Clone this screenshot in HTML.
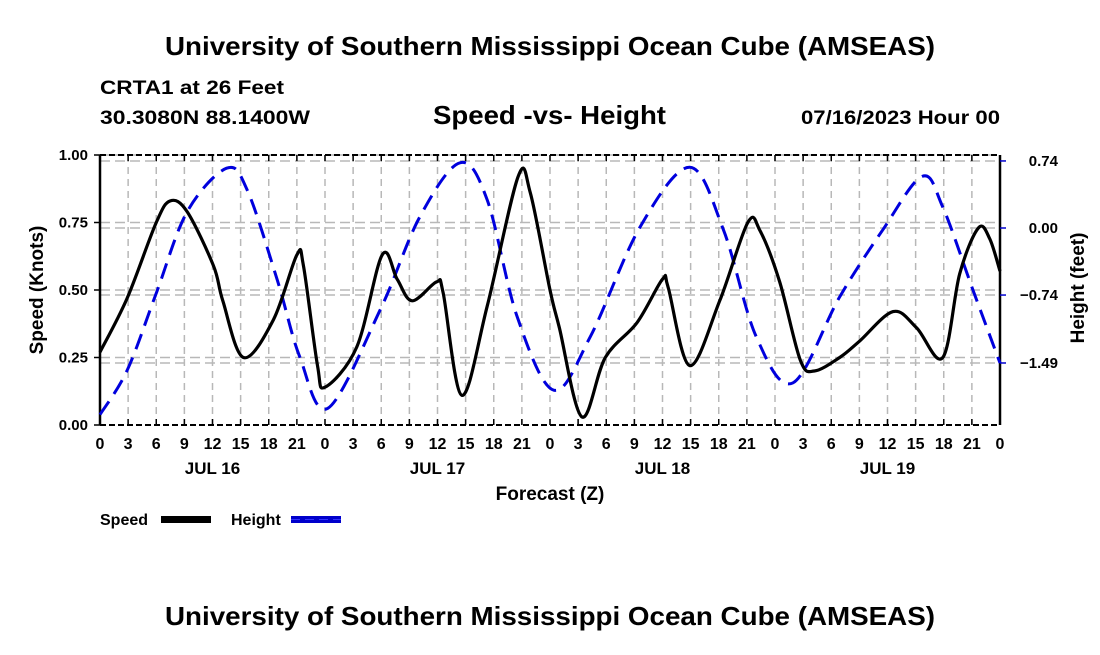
<!DOCTYPE html>
<html><head><meta charset="utf-8"><style>
body{margin:0;background:#fff;}
svg text{font-family:"Liberation Sans",sans-serif;font-weight:bold;fill:#000;}
</style></head><body>
<svg id="c" width="1100" height="650" viewBox="0 0 1100 650">
<text x="165" y="55" font-size="26" textLength="770" lengthAdjust="spacingAndGlyphs">University of Southern Mississippi Ocean Cube (AMSEAS)</text>
<text x="100" y="94" font-size="19" textLength="184" lengthAdjust="spacingAndGlyphs">CRTA1 at 26 Feet</text>
<text x="100" y="124" font-size="19" textLength="210" lengthAdjust="spacingAndGlyphs">30.3080N  88.1400W</text>
<text x="433" y="124" font-size="26" textLength="233" lengthAdjust="spacingAndGlyphs">Speed -vs- Height</text>
<text x="801" y="124" font-size="19" textLength="199" lengthAdjust="spacingAndGlyphs">07/16/2023 Hour 00</text>
<text x="165" y="625" font-size="26" textLength="770" lengthAdjust="spacingAndGlyphs">University of Southern Mississippi Ocean Cube (AMSEAS)</text>
<g id="grid"></g><g id="axes"></g><g id="series"></g>
<text x="550" y="500" font-size="19" text-anchor="middle">Forecast (Z)</text>
<text transform="translate(43,290) rotate(-90)" font-size="19" text-anchor="middle">Speed (Knots)</text>
<text transform="translate(1084,288) rotate(-90)" font-size="19" text-anchor="middle">Height (feet)</text>
<g>
<text x="100" y="525" font-size="16">Speed</text>
<rect x="161" y="516" width="50" height="7" fill="#000"/>
<text x="231" y="525" font-size="16">Height</text>
<rect x="291" y="516" width="50" height="7" fill="#0000cc"/>
<line x1="291" y1="519.5" x2="341" y2="519.5" stroke="#3333ff" stroke-width="1" stroke-dasharray="9,5"/>
</g>
</svg>
<script>
const speedHours=[0,2.9,6,7.5,9.3,12.1,13.1,15.3,18.5,21,21.7,23.2,24,27.4,30.1,31.7,33.3,35.9,36.6,38.6,41.3,44.6,45.9,48,49,51.4,53.9,57.3,60,60.6,62.9,66.1,69.1,70.4,72.5,74.7,76.2,78.9,81,84.6,87.1,89.9,91.7,93.7,94.9,96];
const speedVals=[0.27,0.47,0.75,0.83,0.79,0.59,0.46,0.25,0.39,0.63,0.59,0.22,0.14,0.29,0.63,0.54,0.46,0.53,0.49,0.11,0.44,0.92,0.86,0.5,0.36,0.03,0.25,0.38,0.54,0.51,0.22,0.46,0.75,0.72,0.53,0.24,0.2,0.25,0.31,0.42,0.36,0.25,0.56,0.73,0.69,0.57];
const heightHours=[0,2.9,6,9.3,13.5,15.7,18.9,21.3,24.3,29.9,34.1,38.4,41.3,44.5,48.4,52.3,57.6,62.9,66.5,70,73.9,78.9,83.5,87.7,89.9,93.1,96];
const heightVals=[-2.06,-1.57,-0.72,0.18,0.66,0.42,-0.57,-1.42,-1.99,-0.9,0.12,0.72,0.31,-0.98,-1.79,-1.2,0.01,0.67,-0.02,-1.2,-1.71,-0.76,-0.02,0.57,0.23,-0.68,-1.49];
const xTickLabels=["0","3","6","9","12","15","18","21"];
const dayLabels=["JUL 16","JUL 17","JUL 18","JUL 19"];
const speedTicks=[0,0.25,0.5,0.75,1.0];
const heightTicks=[0.74,0,-0.74,-1.49];

const L=100,R=1000,T=155,B=425,NS="http://www.w3.org/2000/svg";
const xs=h=>L+(R-L)*h/96;
const ys=v=>B-(B-T)*v;
const yh=f=>228-f*90.6;
function mk(p,tag,a){const e=document.createElementNS(NS,tag);for(const k in a)e.setAttribute(k,a[k]);p.appendChild(e);return e;}
const grid=document.getElementById('grid'),axes=document.getElementById('axes'),ser=document.getElementById('series');
for(let h=3;h<96;h+=3){const l=mk(grid,'line',{x1:xs(h),x2:xs(h),y1:T,y2:B,stroke:'#b8b8b8','stroke-width':1.5,'stroke-dasharray':'7,5'});

}
speedTicks.forEach(v=>{if(v===0)return;const l=mk(grid,'line',{x1:L,x2:R,y1:ys(v),y2:ys(v),stroke:'#b8b8b8','stroke-width':1.5,'stroke-dasharray':'10,5'});

});
heightTicks.forEach(v=>{const l=mk(grid,'line',{x1:L,x2:R,y1:yh(v),y2:yh(v),stroke:'#b8b8b8','stroke-width':1.5,'stroke-dasharray':'10,5'});

});
mk(axes,'line',{x1:L,x2:L,y1:T,y2:B,stroke:'#000','stroke-width':2.5});
mk(axes,'line',{x1:R,x2:R,y1:T,y2:B,stroke:'#000','stroke-width':2.5});
mk(axes,'line',{x1:L,x2:R,y1:T,y2:T,stroke:'#000','stroke-width':2,'stroke-dasharray':'6,3'});
mk(axes,'line',{x1:L,x2:R,y1:B,y2:B,stroke:'#000','stroke-width':2,'stroke-dasharray':'6,3'});
for(let h=0;h<=96;h+=3){
 mk(axes,'line',{x1:xs(h),x2:xs(h),y1:B,y2:B-6,stroke:'#000','stroke-width':1.5});
 mk(axes,'line',{x1:xs(h),x2:xs(h),y1:T,y2:T+6,stroke:'#000','stroke-width':1.5});
 const t=mk(axes,'text',{x:xs(h),y:B+24,'font-size':16,'text-anchor':'middle'});t.textContent=h===96?'0':xTickLabels[(h/3)%8];
 
 
}
dayLabels.forEach((d,i)=>{const t=mk(axes,'text',{x:xs(12+24*i),y:B+49,'font-size':17,'text-anchor':'middle'});t.textContent=d;

});
speedTicks.forEach(v=>{mk(axes,'line',{x1:L-6,x2:L,y1:ys(v),y2:ys(v),stroke:'#000','stroke-width':1.5});
const t=mk(axes,'text',{x:L-12,y:ys(v)+5,'font-size':15,'text-anchor':'end'});t.textContent=v.toFixed(2);

});
heightTicks.forEach(v=>{mk(axes,'line',{x1:R,x2:R+6,y1:yh(v),y2:yh(v),stroke:'#0000cc','stroke-width':1.5});
const t=mk(axes,'text',{x:1058,y:yh(v)+5,'font-size':15,'text-anchor':'end'});t.textContent=(v<0?'\u2212'+Math.abs(v).toFixed(2):v.toFixed(2));

});
function cr(pts){let d=`M${pts[0][0]},${pts[0][1]}`;for(let i=0;i<pts.length-1;i++){const p0=pts[i-1]||pts[i],p1=pts[i],p2=pts[i+1],p3=pts[i+2]||p2;
d+=` C${p1[0]+(p2[0]-p0[0])/6},${p1[1]+(p2[1]-p0[1])/6} ${p2[0]-(p3[0]-p1[0])/6},${p2[1]-(p3[1]-p1[1])/6} ${p2[0]},${p2[1]}`;}return d;}
const hp=mk(ser,'path',{d:cr(heightHours.map((h,i)=>[xs(h),yh(heightVals[i])])),fill:'none',stroke:'#0000dd','stroke-width':3,'stroke-dasharray':'16,9'});


const sp=mk(ser,'path',{d:cr(speedHours.map((h,i)=>[xs(h),ys(speedVals[i])])),fill:'none',stroke:'#000','stroke-width':3.2,'stroke-linejoin':'round'});


</script>
</body></html>
